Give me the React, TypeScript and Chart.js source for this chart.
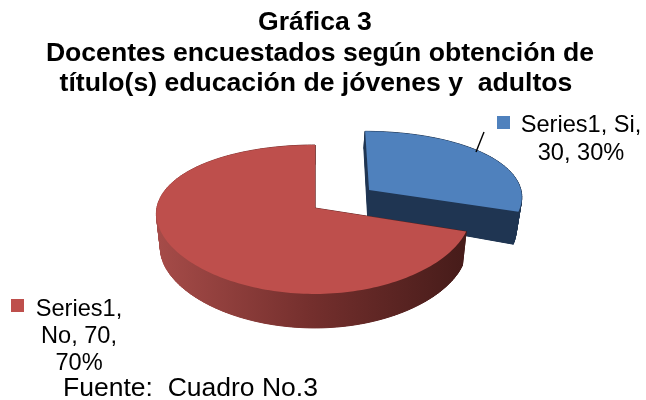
import React, { useEffect, useRef } from "react";
import { Chart, registerables } from "chart.js";

Chart.register(...registerables);

const seriesName = "Series1";
const categories = ["Si", "No"];
const values = [30, 70];
const sliceColors = ["#4F81BD", "#BE4F4C"];
const titleLines = [
  "Gráfica 3",
  "Docentes encuestados según obtención de",
  "título(s) educación de jóvenes y  adultos",
];
const sourceNote = "Fuente:  Cuadro No.3";

const FONT = '"Liberation Sans", Arial, sans-serif';
const CX = 315, CY = 208, R = 155, A = 72.7, K = 0.154, KX = 0.08, DEPTH = 34, SHRINK = 0.975;
const explode = [0.44, 0];

type P = [number, number];
function project(u: number, v: number): P {
  const w = 1 - K * v;
  const wx = 1 - KX * v;
  const side = u < 0 ? 1.02 : 1;
  return [CX + (R * u * side) / wx, CY + (A * v) / w];
}
function lower(p: P): P {
  const depth = Math.min(DEPTH, 28 + (p[1] - 188) * 0.19);
  return [CX + (p[0] - CX) * SHRINK, p[1] + depth];
}
function tracePoly(ctx: CanvasRenderingContext2D, pts: P[]) {
  ctx.beginPath();
  pts.forEach((p, i) => (i ? ctx.lineTo(p[0], p[1]) : ctx.moveTo(p[0], p[1])));
  ctx.closePath();
}

const pie3d = {
  id: "pie3d",
  beforeDatasetsDraw(chart: any) {
    const ctx: CanvasRenderingContext2D = chart.ctx;
    const arcs = chart.getDatasetMeta(0).data;
    const sideFill = (i: number) => {
      if (i === 0) return "#1F3552";
      const g = ctx.createLinearGradient(160, 0, 462, 0);
      g.addColorStop(0, "#A54B48");
      g.addColorStop(0.5, "#742F2D");
      g.addColorStop(1, "#471C1A");
      return g;
    };
    arcs.forEach((arc: any, i: number) => {
      const { startAngle, endAngle } = arc.getProps(["startAngle", "endAngle"], true);
      const mid = (startAngle + endAngle) / 2;
      const ox = Math.cos(mid) * explode[i];
      const oy = Math.sin(mid) * explode[i];
      const top: P[] = [project(ox, oy)];
      const steps = Math.max(24, Math.round((endAngle - startAngle) * 40));
      for (let s = 0; s <= steps; s++) {
        const a = startAngle + ((endAngle - startAngle) * s) / steps;
        top.push(project(ox + Math.cos(a), oy + Math.sin(a)));
      }
      const fill = sideFill(i);
      ctx.save();
      ctx.fillStyle = fill;
      ctx.strokeStyle = fill;
      ctx.lineWidth = 1;
      tracePoly(ctx, top.map(lower));
      ctx.fill();
      top.forEach((p, j) => {
        const q = top[(j + 1) % top.length];
        tracePoly(ctx, [p, q, lower(q), lower(p)]);
        ctx.fill();
        ctx.stroke();
      });
      tracePoly(ctx, top);
      ctx.fillStyle = arc.options.backgroundColor;
      ctx.fill();
      ctx.restore();
    });
    return false;
  },
};

const annotate = {
  id: "annotate",
  afterDraw(chart: any) {
    const ctx: CanvasRenderingContext2D = chart.ctx;
    const total = values.reduce((a, b) => a + b, 0);
    const parts = (i: number) => [
      seriesName + ",",
      categories[i] + ",",
      values[i] + ",",
      Math.round((values[i] / total) * 100) + "%",
    ];
    ctx.save();
    ctx.fillStyle = "#000";
    ctx.textAlign = "center";
    ctx.textBaseline = "alphabetic";
    ctx.font = `bold 26.6px ${FONT}`;
    [[315, 30], [320, 61], [316, 91]].forEach((p, i) => ctx.fillText(titleLines[i], p[0], p[1]));

    ctx.font = `23.6px ${FONT}`;
    const a = parts(0), b = parts(1);
    ctx.fillText(a[0] + " " + a[1], 581, 132);
    ctx.fillText(a[2] + " " + a[3], 581, 160);
    ctx.fillText(b[0], 79, 316);
    ctx.fillText(b[1] + " " + b[2], 79, 343);
    ctx.fillText(b[3], 79, 370);
    ctx.font = `26.5px ${FONT}`;
    ctx.fillText(sourceNote, 190.5, 396);

    ctx.fillStyle = sliceColors[0];
    ctx.fillRect(497, 116, 13, 13);
    ctx.fillStyle = sliceColors[1];
    ctx.fillRect(11, 299, 13, 13);

    ctx.strokeStyle = "#000";
    ctx.lineWidth = 1.4;
    ctx.beginPath();
    ctx.moveTo(484, 132);
    ctx.lineTo(476, 152);
    ctx.stroke();
    ctx.restore();
  },
};

export default function App() {
  const ref = useRef<HTMLCanvasElement>(null);
  useEffect(() => {
    document.body.style.margin = "0";
    document.body.style.background = "#fff";
    const chart = new Chart(ref.current!, {
      type: "pie",
      data: {
        labels: categories,
        datasets: [{ label: seriesName, data: values, backgroundColor: sliceColors }],
      },
      options: {
        responsive: false,
        animation: false,
        plugins: { legend: { display: false }, tooltip: { enabled: false }, title: { display: false } },
      },
      plugins: [pie3d, annotate],
    } as any);
    return () => chart.destroy();
  }, []);
  return <canvas ref={ref} width={646} height={400} style={{ display: "block" }} />;
}
